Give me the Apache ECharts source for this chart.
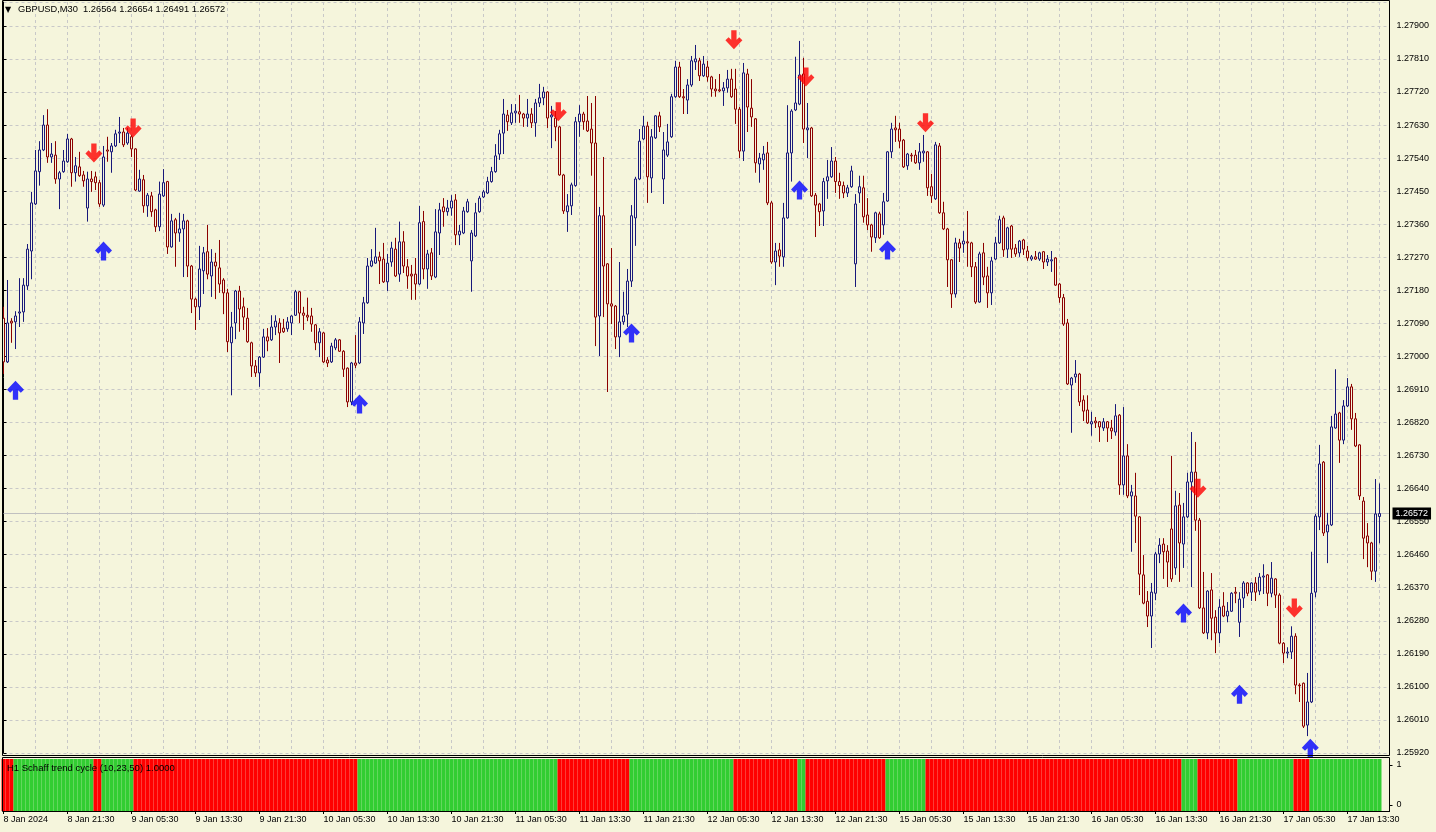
<!DOCTYPE html>
<html><head><meta charset="utf-8">
<script src="https://cdn.jsdelivr.net/npm/echarts@6/dist/echarts.min.js"></script>
<style>html,body{margin:0;padding:0;background:#F5F5DC;}#chart{width:1436px;height:832px;}</style>
</head><body><div id="chart"></div>
<script>
const chartTitle = 'GBPUSD,M30  1.26564 1.26654 1.26491 1.26572';
const indicatorTitle = 'H1 Schaff trend cycle (10,23,50) 1.0000';
const lastPrice = 1.26572;

const openPrices = [
1.27104,1.26985,1.27096,1.27094,1.27118,1.27121,1.27192,1.27287,1.27415,1.27503,
1.27562,1.27630,1.27543,1.27548,1.27483,1.27503,1.27530,1.27592,1.27500,1.27516,
1.27494,1.27404,1.27483,1.27489,1.27473,1.27412,1.27562,1.27557,1.27573,1.27608,
1.27611,1.27581,1.27598,1.27565,1.27450,1.27481,1.27410,1.27437,1.27399,1.27353,
1.27437,1.27476,1.27298,1.27372,1.27336,1.27347,1.27369,1.27246,1.27156,1.27135,
1.27233,1.27285,1.27219,1.27257,1.27241,1.27208,1.27173,1.27037,1.27091,1.27178,
1.27135,1.27104,1.27037,1.26974,1.26955,1.26998,1.27053,1.27045,1.27080,1.27091,
1.27077,1.27075,1.27091,1.27112,1.27176,1.27118,1.27112,1.27110,1.27086,1.27037,
1.27064,1.26990,1.26985,1.27023,1.27045,1.27014,1.26968,1.26876,1.26982,1.26982,
1.27091,1.27146,1.27246,1.27254,1.27271,1.27265,1.27203,1.27257,1.27292,1.27224,
1.27312,1.27244,1.27224,1.27224,1.27197,1.27367,1.27238,1.27282,1.27216,1.27336,
1.27407,1.27394,1.27404,1.27426,1.27331,1.27336,1.27394,1.27260,1.27328,1.27394,
1.27434,1.27445,1.27476,1.27503,1.27551,1.27608,1.27657,1.27636,1.27663,1.27666,
1.27660,1.27649,1.27660,1.27636,1.27690,1.27704,1.27720,1.27652,1.27649,1.27625,
1.27494,1.27394,1.27410,1.27465,1.27639,1.27660,1.27641,1.27619,1.27581,1.27110,
1.27383,1.27252,1.27143,1.27137,1.27053,1.27094,1.27115,1.27205,1.27377,1.27483,
1.27592,1.27627,1.27486,1.27595,1.27655,1.27483,1.27548,1.27598,1.27707,1.27788,
1.27707,1.27698,1.27739,1.27802,1.27805,1.27764,1.27788,1.27761,1.27728,1.27726,
1.27723,1.27731,1.27755,1.27728,1.27673,1.27559,1.27769,1.27676,1.27647,1.27524,
1.27535,1.27554,1.27418,1.27257,1.27290,1.27271,1.27377,1.27554,1.27671,1.27687,
1.27769,1.27617,1.27622,1.27439,1.27415,1.27396,1.27478,1.27489,1.27532,1.27476,
1.27465,1.27445,1.27462,1.27252,1.27445,1.27459,1.27385,1.27358,1.27323,1.27388,
1.27358,1.27423,1.27557,1.27622,1.27619,1.27589,1.27519,1.27548,1.27548,1.27527,
1.27554,1.27557,1.27462,1.27429,1.27573,1.27391,1.27347,1.27263,1.27170,1.27309,
1.27306,1.27312,1.27309,1.27244,1.27148,1.27282,1.27219,1.27173,1.27265,1.27309,
1.27377,1.27292,1.27355,1.27295,1.27282,1.27317,1.27287,1.27265,1.27271,1.27265,
1.27285,1.27257,1.27260,1.27268,1.27197,1.27160,1.27091,1.26922,1.26944,1.26952,
1.26881,1.26854,1.26816,1.26824,1.26822,1.26805,1.26822,1.26805,1.26794,1.26840,
1.26650,1.26729,1.26620,1.26620,1.26563,1.26405,1.26333,1.26293,1.26355,1.26462,
1.26489,1.26470,1.26530,1.26424,1.26595,1.26489,1.26563,1.26658,1.26685,1.26554,
1.26315,1.26247,1.26364,1.26290,1.26247,1.26320,1.26293,1.26306,1.26358,1.26276,
1.26342,1.26383,1.26358,1.26383,1.26361,1.26399,1.26405,1.26355,1.26394,1.26350,
1.26219,1.26192,1.26195,1.26238,1.26105,1.26110,1.25996,1.26059,1.26358,1.26563,
1.26712,1.26522,1.26541,1.26805,1.26846,1.26772,1.26865,1.26917,1.26830,1.26759,
1.26606,1.26511,1.26492,1.26415,1.26564];

const highPrices = [
1.27135,1.27208,1.27104,1.27123,1.27213,1.27213,1.27306,1.27448,1.27562,1.27586,
1.27657,1.27673,1.27581,1.27586,1.27505,1.27562,1.27606,1.27595,1.27543,1.27557,
1.27505,1.27503,1.27505,1.27503,1.27481,1.27573,1.27598,1.27581,1.27617,1.27652,
1.27622,1.27622,1.27603,1.27567,1.27508,1.27494,1.27445,1.27448,1.27402,1.27476,
1.27510,1.27478,1.27388,1.27377,1.27391,1.27388,1.27372,1.27249,1.27160,1.27301,
1.27298,1.27358,1.27292,1.27282,1.27317,1.27213,1.27184,1.27121,1.27181,1.27192,
1.27160,1.27132,1.27040,1.26990,1.27001,1.27075,1.27077,1.27112,1.27112,1.27104,
1.27102,1.27107,1.27112,1.27181,1.27178,1.27135,1.27160,1.27132,1.27088,1.27077,
1.27067,1.26998,1.27037,1.27050,1.27047,1.27017,1.26970,1.26985,1.27058,1.27107,
1.27162,1.27268,1.27292,1.27350,1.27285,1.27309,1.27279,1.27312,1.27323,1.27367,
1.27341,1.27265,1.27249,1.27268,1.27410,1.27396,1.27290,1.27295,1.27401,1.27418,
1.27431,1.27426,1.27439,1.27442,1.27358,1.27407,1.27429,1.27344,1.27418,1.27437,
1.27453,1.27489,1.27516,1.27578,1.27617,1.27701,1.27671,1.27687,1.27687,1.27712,
1.27663,1.27701,1.27676,1.27701,1.27742,1.27734,1.27722,1.27682,1.27668,1.27628,
1.27497,1.27442,1.27473,1.27652,1.27684,1.27666,1.27709,1.27690,1.27709,1.27407,
1.27543,1.27254,1.27295,1.27140,1.27257,1.27176,1.27238,1.27412,1.27489,1.27619,
1.27655,1.27639,1.27619,1.27657,1.27666,1.27611,1.27633,1.27715,1.27805,1.27802,
1.27728,1.27755,1.27818,1.27848,1.27813,1.27818,1.27805,1.27764,1.27755,1.27769,
1.27747,1.27780,1.27783,1.27783,1.27679,1.27799,1.27783,1.27755,1.27649,1.27554,
1.27573,1.27584,1.27423,1.27309,1.27309,1.27418,1.27684,1.27673,1.27816,1.27859,
1.27813,1.27690,1.27625,1.27445,1.27418,1.27486,1.27535,1.27570,1.27543,1.27500,
1.27476,1.27467,1.27519,1.27442,1.27492,1.27492,1.27431,1.27361,1.27394,1.27394,
1.27445,1.27559,1.27636,1.27655,1.27636,1.27592,1.27554,1.27554,1.27562,1.27581,
1.27603,1.27559,1.27497,1.27584,1.27581,1.27421,1.27350,1.27265,1.27323,1.27320,
1.27341,1.27396,1.27312,1.27257,1.27285,1.27309,1.27244,1.27271,1.27325,1.27383,
1.27383,1.27353,1.27358,1.27306,1.27317,1.27320,1.27301,1.27276,1.27287,1.27285,
1.27287,1.27276,1.27287,1.27270,1.27200,1.27170,1.27102,1.26944,1.26990,1.26955,
1.26894,1.26894,1.26849,1.26835,1.26824,1.26832,1.26824,1.26827,1.26870,1.26843,
1.26862,1.26761,1.26650,1.26683,1.26565,1.26459,1.26361,1.26383,1.26468,1.26505,
1.26505,1.26486,1.26729,1.26634,1.26628,1.26601,1.26683,1.26794,1.26767,1.26560,
1.26413,1.26363,1.26410,1.26309,1.26339,1.26358,1.26331,1.26358,1.26372,1.26358,
1.26388,1.26385,1.26385,1.26399,1.26410,1.26434,1.26407,1.26440,1.26396,1.26355,
1.26222,1.26208,1.26265,1.26246,1.26110,1.26112,1.26138,1.26468,1.26571,1.26759,
1.26715,1.26574,1.26838,1.26965,1.26849,1.26881,1.26941,1.26925,1.26846,1.26761,
1.26617,1.26546,1.26495,1.26666,1.26654];

const lowPrices = [
1.26952,1.26982,1.27037,1.27020,1.27080,1.27094,1.27181,1.27210,1.27412,1.27465,
1.27559,1.27527,1.27527,1.27470,1.27401,1.27500,1.27527,1.27462,1.27476,1.27489,
1.27462,1.27367,1.27448,1.27453,1.27407,1.27407,1.27530,1.27500,1.27570,1.27581,
1.27570,1.27576,1.27543,1.27450,1.27448,1.27391,1.27380,1.27380,1.27339,1.27341,
1.27434,1.27279,1.27296,1.27244,1.27312,1.27216,1.27216,1.27118,1.27072,1.27099,
1.27170,1.27210,1.27162,1.27156,1.27173,1.27115,1.27012,1.26894,1.27047,1.27067,
1.27072,1.27037,1.26944,1.26944,1.26917,1.26996,1.27014,1.27042,1.27058,1.26982,
1.27064,1.27067,1.27058,1.27110,1.27091,1.27072,1.27096,1.27067,1.27017,1.26998,
1.26982,1.26971,1.26982,1.27017,1.27012,1.26944,1.26862,1.26867,1.26968,1.26979,
1.27061,1.27143,1.27243,1.27252,1.27197,1.27200,1.27178,1.27244,1.27216,1.27203,
1.27227,1.27184,1.27154,1.27154,1.27194,1.27210,1.27184,1.27208,1.27213,1.27276,
1.27353,1.27383,1.27383,1.27303,1.27303,1.27333,1.27391,1.27176,1.27325,1.27391,
1.27431,1.27442,1.27473,1.27500,1.27535,1.27551,1.27614,1.27630,1.27636,1.27636,
1.27625,1.27625,1.27622,1.27598,1.27679,1.27684,1.27622,1.27567,1.27586,1.27492,
1.27388,1.27339,1.27385,1.27462,1.27598,1.27617,1.27611,1.27492,1.27028,1.27001,
1.27107,1.26903,1.27088,1.27020,1.26998,1.27086,1.27080,1.27189,1.27301,1.27480,
1.27589,1.27418,1.27445,1.27592,1.27611,1.27415,1.27543,1.27595,1.27704,1.27704,
1.27660,1.27660,1.27734,1.27780,1.27750,1.27761,1.27748,1.27707,1.27707,1.27720,
1.27682,1.27718,1.27704,1.27633,1.27540,1.27532,1.27611,1.27625,1.27500,1.27473,
1.27508,1.27412,1.27252,1.27194,1.27244,1.27244,1.27375,1.27476,1.27668,1.27684,
1.27581,1.27540,1.27434,1.27325,1.27355,1.27355,1.27429,1.27486,1.27445,1.27429,
1.27431,1.27434,1.27459,1.27189,1.27418,1.27364,1.27344,1.27285,1.27309,1.27320,
1.27331,1.27421,1.27540,1.27584,1.27567,1.27513,1.27508,1.27530,1.27524,1.27508,
1.27530,1.27437,1.27418,1.27426,1.27388,1.27344,1.27189,1.27132,1.27160,1.27257,
1.27282,1.27244,1.27216,1.27143,1.27146,1.27194,1.27132,1.27140,1.27262,1.27306,
1.27271,1.27268,1.27268,1.27271,1.27271,1.27276,1.27260,1.27260,1.27263,1.27260,
1.27238,1.27246,1.27230,1.27192,1.27146,1.27083,1.26922,1.26792,1.26928,1.26865,
1.26824,1.26816,1.26784,1.26805,1.26767,1.26797,1.26767,1.26775,1.26784,1.26623,
1.26623,1.26614,1.26468,1.26492,1.26350,1.26325,1.26263,1.26206,1.26336,1.26437,
1.26394,1.26372,1.26386,1.26405,1.26386,1.26424,1.26560,1.26372,1.26525,1.26312,
1.26244,1.26230,1.26227,1.26192,1.26219,1.26290,1.26276,1.26304,1.26328,1.26236,
1.26315,1.26347,1.26334,1.26334,1.26350,1.26353,1.26320,1.26344,1.26315,1.26216,
1.26165,1.26178,1.26176,1.26080,1.26059,1.25988,1.25966,1.26056,1.26344,1.26527,
1.26511,1.26437,1.26538,1.26803,1.26710,1.26761,1.26862,1.26800,1.26753,1.26609,
1.26448,1.26426,1.26391,1.26386,1.26491];

const closePrices = [
1.26985,1.27091,1.27091,1.27110,1.27121,1.27194,1.27292,1.27418,1.27505,1.27562,
1.27630,1.27543,1.27551,1.27483,1.27500,1.27532,1.27592,1.27500,1.27519,1.27492,
1.27478,1.27483,1.27476,1.27473,1.27415,1.27543,1.27559,1.27573,1.27606,1.27611,
1.27576,1.27608,1.27565,1.27453,1.27483,1.27410,1.27439,1.27394,1.27353,1.27442,
1.27473,1.27298,1.27369,1.27336,1.27347,1.27369,1.27246,1.27156,1.27135,1.27238,
1.27282,1.27224,1.27257,1.27246,1.27197,1.27173,1.27040,1.27080,1.27178,1.27129,
1.27107,1.27040,1.26974,1.26955,1.26998,1.27053,1.27042,1.27080,1.27096,1.27064,
1.27067,1.27094,1.27110,1.27176,1.27118,1.27112,1.27107,1.27088,1.27037,1.27067,
1.26985,1.26982,1.27028,1.27045,1.27014,1.26965,1.26876,1.26982,1.26976,1.27094,
1.27146,1.27246,1.27260,1.27271,1.27260,1.27203,1.27254,1.27295,1.27219,1.27312,
1.27246,1.27219,1.27219,1.27197,1.27364,1.27238,1.27279,1.27219,1.27339,1.27399,
1.27394,1.27404,1.27423,1.27331,1.27341,1.27396,1.27421,1.27336,1.27391,1.27431,
1.27448,1.27476,1.27503,1.27546,1.27606,1.27660,1.27639,1.27663,1.27668,1.27660,
1.27649,1.27660,1.27636,1.27690,1.27704,1.27720,1.27649,1.27657,1.27625,1.27494,
1.27396,1.27410,1.27467,1.27639,1.27660,1.27639,1.27614,1.27581,1.27107,1.27383,
1.27246,1.27143,1.27137,1.27053,1.27094,1.27110,1.27205,1.27383,1.27483,1.27586,
1.27627,1.27489,1.27598,1.27655,1.27625,1.27562,1.27584,1.27707,1.27788,1.27707,
1.27704,1.27739,1.27805,1.27810,1.27764,1.27796,1.27761,1.27728,1.27723,1.27723,
1.27731,1.27755,1.27707,1.27673,1.27559,1.27772,1.27679,1.27652,1.27527,1.27540,
1.27551,1.27418,1.27257,1.27287,1.27273,1.27377,1.27554,1.27668,1.27690,1.27766,
1.27619,1.27622,1.27437,1.27412,1.27394,1.27476,1.27489,1.27532,1.27476,1.27465,
1.27445,1.27459,1.27505,1.27415,1.27462,1.27380,1.27358,1.27325,1.27391,1.27323,
1.27421,1.27557,1.27619,1.27617,1.27586,1.27516,1.27551,1.27546,1.27527,1.27557,
1.27559,1.27459,1.27437,1.27576,1.27391,1.27347,1.27263,1.27170,1.27309,1.27295,
1.27314,1.27309,1.27244,1.27148,1.27279,1.27216,1.27173,1.27260,1.27309,1.27372,
1.27290,1.27350,1.27292,1.27279,1.27314,1.27292,1.27268,1.27271,1.27265,1.27282,
1.27257,1.27265,1.27263,1.27194,1.27160,1.27088,1.26925,1.26941,1.26952,1.26876,
1.26851,1.26819,1.26822,1.26819,1.26808,1.26822,1.26805,1.26797,1.26838,1.26650,
1.26729,1.26620,1.26631,1.26565,1.26407,1.26328,1.26293,1.26358,1.26462,1.26486,
1.26468,1.26440,1.26394,1.26593,1.26492,1.26563,1.26658,1.26685,1.26554,1.26315,
1.26247,1.26361,1.26287,1.26247,1.26317,1.26293,1.26306,1.26355,1.26355,1.26339,
1.26383,1.26355,1.26383,1.26358,1.26399,1.26402,1.26355,1.26396,1.26350,1.26219,
1.26192,1.26195,1.26238,1.26105,1.26103,1.25993,1.26059,1.26355,1.26565,1.26707,
1.26519,1.26541,1.26808,1.26843,1.26772,1.26865,1.26917,1.26830,1.26756,1.26620,
1.26505,1.26492,1.26415,1.26571,1.26572];

// signal arrows: [bar position, price]
const buySignals = [[3,1.26908],[25,1.27287],[89,1.26870],[157,1.27064],[199,1.27453],
  [221,1.27290],[295,1.26301],[309,1.26080],[326.7,1.25933]];
const sellSignals = [[22.6,1.27554],[32.4,1.27622],[138.7,1.27666],[182.6,1.27862],[200.6,1.27761],
  [230.5,1.27636],[298.6,1.26641],[322.7,1.26315]];

// Schaff trend cycle (H1): [first bar of run, trend 1 = up (green), 0 = down (red)]
const stcTrendRuns = [[0,0],[3,1],[23,0],[25,1],[33,0],[89,1],[139,0],[157,1],[183,0],
  [199,1],[201,0],[221,1],[231,0],[295,1],[299,0],[309,1],[323,0],[327,1]];
const stcValue = 1.0;
const stcAxisLabels = [0, 1];

const timeLabels = ['8 Jan 2024','8 Jan 21:30','9 Jan 05:30','9 Jan 13:30','9 Jan 21:30',
  '10 Jan 05:30','10 Jan 13:30','10 Jan 21:30','11 Jan 05:30','11 Jan 13:30','11 Jan 21:30',
  '12 Jan 05:30','12 Jan 13:30','12 Jan 21:30','15 Jan 05:30','15 Jan 13:30','15 Jan 21:30',
  '16 Jan 05:30','16 Jan 13:30','16 Jan 21:30','17 Jan 05:30','17 Jan 13:30'];
const barsPerTimeLabel = 16;
const barsPerGridLine = 8;

// ---------- build ----------
const BG = '#F5F5DC';
const FONT = 'Liberation Sans';
const candleData = openPrices.map((o, i) => [i, o, closePrices[i], lowPrices[i], highPrices[i]]);
function trendAt(i) {
  let t = stcTrendRuns[0][1];
  for (const r of stcTrendRuns) { if (i >= r[0]) t = r[1]; }
  return t;
}
const stcData = openPrices.map((_, i) => ({
  value: [i, stcValue],
  itemStyle: { color: trendAt(i) ? '#32CD32' : '#FF0000' }
}));
const arrowPath = 'path://M8,0L16,8.5L13,11.5L10.5,9L10.5,18L5.5,18L5.5,9L3,11.5L0,8.5Z';

const GL = 3.5, GW = 1386, XMAX = 346.5;
const chart = echarts.init(document.getElementById('chart'), null, { renderer: 'canvas' });
chart.setOption({
  animation: false,
  backgroundColor: BG,
  textStyle: { fontFamily: FONT },
  grid: [
    { left: GL, top: 2, width: GW, height: 751 },
    { left: GL, top: 759, width: GW, height: 52 }
  ],
  xAxis: [
    { type: 'value', gridIndex: 0, min: 0, max: XMAX, interval: barsPerGridLine,
      axisLine: { show: false }, axisTick: { show: false }, axisLabel: { show: false },
      splitLine: { show: true, lineStyle: { color: '#c8c8c8', type: [3, 3], width: 1 } } },
    { type: 'value', gridIndex: 1, min: 0, max: XMAX, interval: barsPerTimeLabel,
      axisLine: { show: true, onZero: false, lineStyle: { color: '#000', width: 1 } },
      axisTick: { show: true, length: 3, lineStyle: { color: '#000' } },
      splitLine: { show: false },
      axisLabel: { show: true, align: 'left', margin: 4, color: '#000', fontSize: 9, fontFamily: FONT,
        showMaxLabel: false,
        formatter: v => (v % barsPerTimeLabel === 0 && timeLabels[v / barsPerTimeLabel]) || '' } }
  ],
  yAxis: [
    { type: 'value', gridIndex: 0, position: 'right', min: 1.2592, max: 1.27965, interval: 0.0009,
      axisLine: { show: true, lineStyle: { color: '#000', width: 1 } },
      axisTick: { show: true, length: 3, lineStyle: { color: '#000' } },
      axisLabel: { show: true, margin: 7, color: '#000', fontSize: 9, fontFamily: FONT,
        showMaxLabel: false, showMinLabel: true, formatter: v => v.toFixed(5) },
      splitLine: { show: true, lineStyle: { color: '#c8c8c8', type: [3, 3], width: 1 } } },
    { type: 'value', gridIndex: 1, min: 0, max: 1, show: false },
    { type: 'value', gridIndex: 1, position: 'right', min: -0.15, max: 1.15,
      axisLine: { show: true, lineStyle: { color: '#000', width: 1 } },
      axisTick: { show: true, length: 3, customValues: stcAxisLabels, lineStyle: { color: '#000' } },
      axisLabel: { show: true, margin: 7, color: '#000', fontSize: 9, fontFamily: FONT,
        customValues: stcAxisLabels, formatter: v => String(Math.round(v)) },
      splitLine: { show: false } }
  ],
  series: [
    { type: 'candlestick', name: 'GBPUSD', xAxisIndex: 0, yAxisIndex: 0, data: candleData,
      barWidth: 2, clip: false,
      itemStyle: { color: BG, color0: BG, borderColor: '#18187a', borderColor0: '#8B0000', borderWidth: 1 } },
    { type: 'scatter', name: 'Buy', xAxisIndex: 0, yAxisIndex: 0, data: buySignals, clip: false,
      symbol: arrowPath, symbolSize: [17, 19], itemStyle: { color: '#0000FF' }, z: 5,
      markLine: { silent: true, symbol: ['none', 'none'], z: 1, precision: 5,
        lineStyle: { color: '#c0c0c0', type: 'solid', width: 1 },
        label: { show: true, position: 'end', distance: 3, formatter: lastPrice.toFixed(5), color: '#fff',
          backgroundColor: '#000', padding: [2, 3, 1, 3], fontSize: 9, fontFamily: FONT },
        data: [{ yAxis: lastPrice }] } },
    { type: 'scatter', name: 'Sell', xAxisIndex: 0, yAxisIndex: 0, data: sellSignals, clip: false,
      symbol: arrowPath, symbolSize: [17, 19], symbolRotate: 180, itemStyle: { color: '#FF0000' }, z: 5 },
    { type: 'bar', name: 'STC', xAxisIndex: 1, yAxisIndex: 1, data: stcData, barWidth: 4,
      barGap: '0%', silent: true }
  ],
  graphic: [
    { type: 'rect', z: 50, silent: true, shape: { x: 2.5, y: 0.5, width: 1387, height: 755 },
      style: { fill: null, stroke: '#000', lineWidth: 1 } },
    { type: 'rect', z: 50, silent: true, shape: { x: 2.5, y: 757.5, width: 1387, height: 54 },
      style: { fill: null, stroke: '#000', lineWidth: 1 } },
    { type: 'text', z: 60, left: 5, top: 6, style: { text: '\u25BC', font: '8px "DejaVu Sans"', fill: '#000' } },
    { type: 'text', z: 60, left: 18, top: 5, style: { text: chartTitle, font: '9.3px "Liberation Sans"', fill: '#000' } },
    { type: 'text', z: 60, left: 7, top: 763, style: { text: indicatorTitle, font: '9.5px "Liberation Sans"', fill: '#000' } }
  ]
});
</script></body></html>
